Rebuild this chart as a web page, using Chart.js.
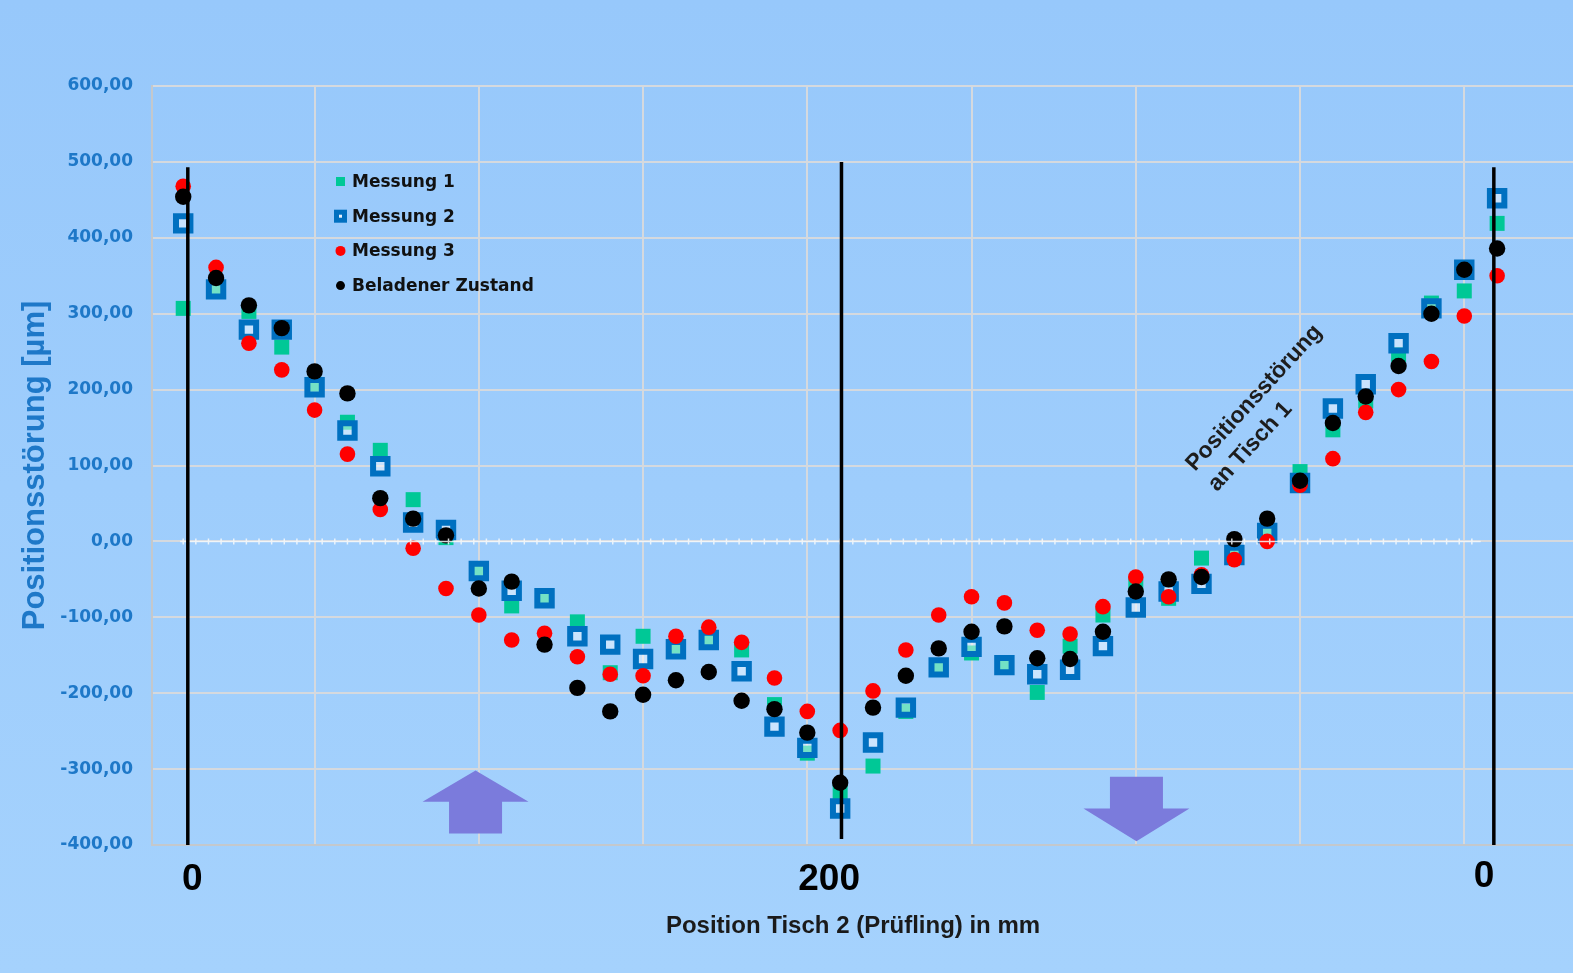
<!DOCTYPE html>
<html>
<head>
<meta charset="utf-8">
<title>Positionsstörung</title>
<script src="https://cdn.jsdelivr.net/npm/chart.js@4.4.0/dist/chart.umd.min.js"></script>
<style>
  html, body { margin: 0; padding: 0; overflow: hidden; background: #9ecdfc; }
  canvas { display: block; }
</style>
</head>
<body>
<canvas id="chart" width="1573" height="973"></canvas>
<script>
// Messpositionen von Tisch 2 (Hin- und Rückweg), in mm
const positionMm = [0, 10, 20, 30, 40, 50, 60, 70, 80, 90, 100, 110, 120, 130, 140, 150, 160, 170, 180, 190,
                    200, 190, 180, 170, 160, 150, 140, 130, 120, 110, 100, 90, 80, 70, 60, 50, 40, 30, 20, 10, 0];

// Positionsstörung in µm
const messung1 = [307, 335, 303, 256, 207, 157, 120, 55, 5, -38, -85, -75, -106, -173, -125, -138, -130, -143, -215, -279,
                  -330, -296, -224, -166, -147, -162, -199, -138, -97, -57, -75, -22, -17, 12, 92, 147, 185, 246, 314, 330, 419];
const messung2 = [419, 332, 279, 279, 203, 146, 99, 25, 15, -39, -65, -75, -125, -136, -155, -142, -130, -171, -244, -272,
                  -352, -265, -219, -166, -139, -163, -175, -169, -138, -87, -66, -56, -18, 11, 77, 175, 207, 261, 307, 358, 452];
const messung3 = [468, 361, 261, 226, 173, 115, 42, -9, -62, -97, -130, -121, -152, -175, -177, -125, -113, -133, -180, -224,
                  -249, -197, -143, -97, -73, -81, -117, -122, -86, -47, -73, -44, -24, 0, 74, 109, 170, 200, 237, 297, 350];
const beladen  = [454, 347, 311, 281, 224, 195, 57, 30, 8, -62, -53, -136, -193, -224, -202, -183, -172, -210, -221, -252,
                  -318, -219, -177, -141, -119, -112, -154, -155, -119, -66, -50, -47, 3, 30, 80, 156, 191, 231, 300, 358, 386];

const seriesNames = ['Messung 1', 'Messung 2', 'Messung 3', 'Beladener Zustand'];

// Beschriftung der Wendepunkte auf der Positionsachse
const xMarkLabels = ['0', '200', '0'];
const xMarkIndex  = [0, 20, 40];

// Y-Achse
const yMin = -400, yMax = 600, yStep = 100;

const BLUE_TEXT = '#1E78C8';
const GRID = '#D5D9DE';

function toPoints(values) {
  return values.map((v, i) => ({ x: i, y: v, mm: positionMm[i] }));
}

const datasets = [
  { label: seriesNames[0], data: toPoints(messung1), order: 4,
    pointStyle: 'rect', pointRadius: 10.6, pointBorderWidth: 0,
    pointBackgroundColor: '#00C896', borderColor: '#00C896', backgroundColor: '#00C896' },
  { label: seriesNames[1], data: toPoints(messung2), order: 3,
    pointStyle: 'rect', pointRadius: 10.2, pointBorderWidth: 6,
    pointBackgroundColor: 'rgba(255,255,255,0.45)', pointBorderColor: '#0070C0',
    borderColor: '#0070C0', backgroundColor: 'rgba(255,255,255,0.45)' },
  { label: seriesNames[2], data: toPoints(messung3), order: 2,
    pointStyle: 'circle', pointRadius: 7.8, pointBorderWidth: 0,
    pointBackgroundColor: '#FF0000', borderColor: '#FF0000', backgroundColor: '#FF0000' },
  { label: seriesNames[3], data: toPoints(beladen), order: 1,
    pointStyle: 'circle', pointRadius: 8.2, pointBorderWidth: 0,
    pointBackgroundColor: '#000000', borderColor: '#000000', backgroundColor: '#000000' }
];

// Hintergrundverlauf
const backdrop = {
  id: 'backdrop',
  beforeDraw(chart) {
    const { ctx, width, height } = chart;
    const g = ctx.createLinearGradient(0, 0, 0, height);
    g.addColorStop(0, '#97C8FB');
    g.addColorStop(1, '#A5D2FD');
    ctx.save();
    ctx.fillStyle = g;
    ctx.fillRect(0, 0, width, height);
    ctx.restore();
  }
};

// Nulllinie, Wendemarken, Pfeile und Beschriftungen
const overlay = {
  id: 'overlay',
  afterDatasetsDraw(chart) {
    const { ctx, scales: { x, y } } = chart;
    const unit = x.getPixelForValue(1) - x.getPixelForValue(0);

    // gepunktete Nulllinie
    const y0 = Math.round(y.getPixelForValue(0)) + 0.5;
    const xa = x.getPixelForValue(0), xb = x.getPixelForValue(39.5);
    ctx.save();
    ctx.strokeStyle = 'rgba(246,249,252,0.85)';
    ctx.lineWidth = 1.5;
    ctx.beginPath();
    ctx.moveTo(xa, y0); ctx.lineTo(xb, y0);
    const step = unit / 2.6;
    for (let px = xa; px <= xb + 0.1; px += step) {
      ctx.moveTo(px, y0 - 3); ctx.lineTo(px, y0 + 3);
      ctx.moveTo(px - 3, y0); ctx.lineTo(px + 3, y0);
    }
    ctx.stroke();
    ctx.restore();

    // senkrechte Wendemarken
    const marks = [
      { at: 0.14, top: 493, bottom: -400 },
      { at: 20.04, top: 500, bottom: -392 },
      { at: 39.9, top: 493, bottom: -400 }
    ];
    ctx.save();
    ctx.strokeStyle = '#000';
    ctx.lineWidth = 3.5;
    marks.forEach(m => {
      const px = x.getPixelForValue(m.at);
      ctx.beginPath();
      ctx.moveTo(px, y.getPixelForValue(m.top));
      ctx.lineTo(px, y.getPixelForValue(m.bottom));
      ctx.stroke();
    });
    ctx.restore();

    // Pfeile
    ctx.save();
    ctx.fillStyle = '#7B7BDC';
    const up = { cx: x.getPixelForValue(8.9), tip: y.getPixelForValue(-302), base: y.getPixelForValue(-343), end: y.getPixelForValue(-385) };
    ctx.beginPath();
    ctx.moveTo(up.cx, up.tip);
    ctx.lineTo(up.cx + 53, up.base);
    ctx.lineTo(up.cx + 26.5, up.base);
    ctx.lineTo(up.cx + 26.5, up.end);
    ctx.lineTo(up.cx - 26.5, up.end);
    ctx.lineTo(up.cx - 26.5, up.base);
    ctx.lineTo(up.cx - 53, up.base);
    ctx.closePath();
    ctx.fill();
    const dn = { cx: x.getPixelForValue(29.02), tip: y.getPixelForValue(-395), base: y.getPixelForValue(-352), end: y.getPixelForValue(-310) };
    ctx.beginPath();
    ctx.moveTo(dn.cx, dn.tip);
    ctx.lineTo(dn.cx + 53, dn.base);
    ctx.lineTo(dn.cx + 26.5, dn.base);
    ctx.lineTo(dn.cx + 26.5, dn.end);
    ctx.lineTo(dn.cx - 26.5, dn.end);
    ctx.lineTo(dn.cx - 26.5, dn.base);
    ctx.lineTo(dn.cx - 53, dn.base);
    ctx.closePath();
    ctx.fill();
    ctx.restore();

    // schräge Anmerkung
    ctx.save();
    ctx.fillStyle = '#1d1d1d';
    ctx.font = 'bold 23px "Liberation Sans", Arial, sans-serif';
    ctx.textAlign = 'left';
    ctx.textBaseline = 'alphabetic';
    ctx.translate(1195, 472);
    ctx.rotate(-47.5 * Math.PI / 180);
    ctx.fillText('Positionsstörung', 0, 0);
    ctx.fillText('an Tisch 1', 0, 30);
    ctx.restore();
  },
  afterDraw(chart) {
    const { ctx, scales: { x }, chartArea } = chart;

    // Wendepunkte der Positionsachse
    const shift = [9, -11, -13];
    ctx.save();
    ctx.fillStyle = '#000';
    ctx.font = 'bold 37px "Liberation Sans", Arial, sans-serif';
    ctx.textAlign = 'center';
    ctx.textBaseline = 'middle';
    xMarkLabels.forEach((t, k) => {
      ctx.fillText(t, x.getPixelForValue(xMarkIndex[k]) + shift[k], chartArea.bottom + 35 - (k === 2 ? 3 : 0));
    });

    // Achsentitel
    ctx.fillStyle = '#1a1a1a';
    ctx.font = 'bold 24px "Liberation Sans", Arial, sans-serif';
    ctx.fillText('Position Tisch 2 (Prüfling) in mm', 853, chartArea.bottom + 81);
    ctx.restore();

    // Legende
    ctx.save();
    ctx.font = 'bold 17px "DejaVu Sans", Verdana, sans-serif';
    ctx.textAlign = 'left';
    ctx.textBaseline = 'middle';
    const lx = 340.5, tx = 352, ly0 = 181.5, dy = 34.7;
    chart.data.datasets.forEach((ds, i) => {
      const cy = ly0 + i * dy;
      if (i === 0) {
        ctx.fillStyle = ds.pointBackgroundColor;
        ctx.fillRect(lx - 4.5, cy - 4.5, 9, 9);
      } else if (i === 1) {
        ctx.fillStyle = ds.pointBorderColor;
        ctx.fillRect(lx - 6.5, cy - 6.5, 13, 13);
        ctx.fillStyle = '#E9F2FC';
        ctx.fillRect(lx - 1.5, cy - 1.5, 3, 3);
      } else {
        ctx.fillStyle = ds.pointBackgroundColor;
        ctx.beginPath();
        ctx.arc(lx, cy, i === 2 ? 5 : 4.5, 0, Math.PI * 2);
        ctx.fill();
      }
      ctx.fillStyle = '#111';
      ctx.fillText(ds.label, tx, cy + 1);
    });
    ctx.restore();
  }
};

const gridTicks = [-0.95, 4, 9, 14, 19, 24, 29, 34, 39];

new Chart(document.getElementById('chart'), {
  type: 'scatter',
  data: { datasets },
  options: {
    responsive: false,
    animation: false,
    devicePixelRatio: 1,
    layout: { autoPadding: false, padding: { left: 0, right: 0, top: 86, bottom: 128 } },
    plugins: {
      legend: { display: false },
      tooltip: { enabled: false },
      title: { display: false }
    },
    scales: {
      x: {
        type: 'linear',
        min: -0.95,
        max: 42.31,
        afterBuildTicks(scale) { scale.ticks = gridTicks.map(v => ({ value: v })); },
        ticks: { display: false },
        grid: { color: GRID, lineWidth: 2, drawTicks: false },
        border: { color: '#C4C8CC', width: 2 }
      },
      y: {
        type: 'linear',
        min: yMin,
        max: yMax,
        afterFit(scale) { scale.width = 152; },
        ticks: {
          stepSize: yStep,
          padding: 19,
          color: BLUE_TEXT,
          font: { family: '"DejaVu Sans", Verdana, sans-serif', weight: 'bold', size: 17 },
          callback: v => v.toFixed(2).replace('.', ',')
        },
        grid: { color: GRID, lineWidth: 2, drawTicks: false },
        border: { color: '#C4C8CC', width: 2 },
        title: {
          display: true,
          text: 'Positionsstörung [µm]',
          color: BLUE_TEXT,
          font: { family: '"Liberation Sans", Arial, sans-serif', weight: 'bold', size: 31 },
          padding: { top: 17, bottom: 0 }
        }
      }
    }
  },
  plugins: [backdrop, overlay]
});
</script>
</body>
</html>
